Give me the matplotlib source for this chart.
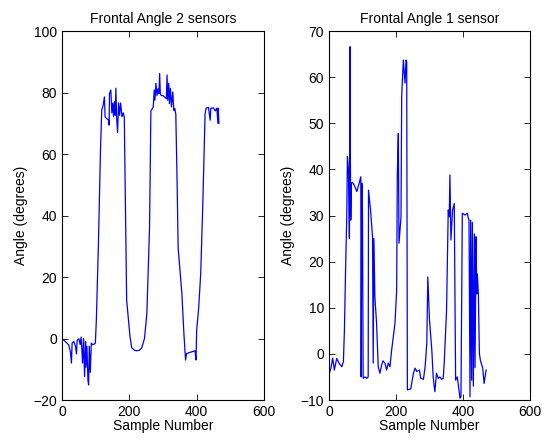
import matplotlib
matplotlib.use("Agg")
import matplotlib.pyplot as plt

# Frontal angle measured with 2 sensors (sample number, angle in degrees)
two_sensor_samples = [0, 10, 20, 25, 28, 30, 35, 40, 43, 45, 50, 54, 57, 61, 64, 67, 70, 71, 74, 77,
                      79, 81, 84, 87, 91, 96, 99, 102, 108, 114, 118, 122, 126, 128, 132, 138, 140, 141,
                      145, 148, 151, 153, 156, 158, 160, 162, 165, 168, 171, 174, 178, 182, 185, 192,
                      202, 207, 215, 222, 230, 237, 245, 252, 260, 264, 269, 271, 274, 276, 279, 282,
                      285, 288, 290, 292, 295, 300, 305, 310, 312, 314, 317, 319, 322, 325, 329, 332,
                      335, 338, 342, 345, 356, 362, 367, 370, 380, 390, 395, 398, 400, 406, 412, 418,
                      425, 428, 435, 440, 442, 450, 455, 460, 463, 464, 466]
two_sensor_angle = [0.0, -1.0, -2.1, -4.3, -8.0, -1.5, -1.0, -2.5, -5.0, -0.6, -0.1, -2.0, 0.5, -8.0,
                    0.0, -12.4, -1.0, -9.3, -2.5, -13.5, -15.1, -2.5, -11.0, -1.5, -2.0, -1.8, -1.5,
                    6.0, 30.0, 60.0, 74.3, 75.7, 78.6, 72.1, 71.6, 71.0, 69.4, 79.7, 80.8, 73.4, 76.6,
                    72.1, 77.0, 72.6, 81.4, 72.6, 67.0, 76.6, 72.6, 76.6, 72.1, 73.4, 72.0, 12.5, 0.6,
                    -3.0, -3.8, -4.0, -3.8, -3.0, 0.0, 8.0, 36.0, 74.0, 74.9, 75.3, 80.8, 77.5, 83.0,
                    79.0, 81.2, 79.6, 86.2, 79.6, 79.0, 79.0, 78.5, 78.0, 85.7, 77.5, 83.0, 76.4, 81.4,
                    75.3, 80.2, 74.2, 74.8, 73.0, 50.0, 29.4, 14.7, 1.7, -7.0, -4.9, -4.5, -4.2, -4.0,
                    -7.0, 2.8, 10.0, 21.2, 42.9, 73.2, 74.9, 75.2, 71.0, 74.9, 75.0, 74.0, 74.9, 70.0,
                    74.9, 70.0]

# Frontal angle measured with 1 sensor
one_sensor_samples = [1, 6, 11, 16, 23, 30, 38, 43, 46, 50, 53, 55, 58, 61, 63, 64, 65, 67, 70, 76,
                      83, 90, 95, 96, 98, 99, 100, 102, 108, 113, 117, 118, 124, 130, 132, 134, 137,
                      142, 147, 152, 157, 161, 167, 172, 177, 182, 187, 192, 197, 202, 204, 207, 209,
                      215, 217, 222, 227, 230, 232, 234, 244, 252, 257, 262, 270, 274, 282, 287, 292,
                      295, 300, 307, 311, 316, 321, 326, 331, 336, 341, 344, 351, 356, 359, 361, 364,
                      369, 374, 378, 383, 388, 391, 394, 398, 406, 413, 416, 418, 421, 423, 426, 428,
                      431, 434, 436, 439, 441, 443, 446, 449, 452, 459, 463, 469]
one_sensor_angle = [-4.2, -3.0, -0.9, -3.5, -1.0, -2.0, -2.8, -1.7, 5.0, 20.0, 29.7, 42.8, 40.0, 25.0,
                    66.6, 40.0, 29.0, 37.0, 37.2, 36.5, 35.2, 37.0, 38.4, -5.0, 37.0, 35.0, 30.0,
                    -5.3, -5.0, -5.3, -5.0, 35.5, 31.2, 25.4, -2.0, 25.0, 12.4, 6.7, -2.8, -4.2,
                    -2.5, -1.5, -2.0, -3.5, -2.0, -2.8, 0.8, 3.7, 6.7, 13.8, 39.1, 47.8, 24.0, 29.7,
                    55.8, 63.7, 58.7, 63.7, 63.3, -7.8, -7.6, -4.2, -3.1, -3.8, -3.5, -5.3, -5.5, -2.8,
                    2.3, 16.7, 7.4, 0.8, -5.0, -8.2, -4.2, -5.3, -5.0, -5.5, -5.3, -2.0, 9.5, 31.2,
                    29.7, 38.8, 24.7, 31.2, 32.6, -5.7, -5.0, -7.8, -9.6, -9.3, 30.5, 30.1, 30.5, 29.4,
                    29.0, -9.3, 29.0, -5.7, 28.5, -7.0, 26.0, -3.0, 25.4, 13.0, 17.3, 12.8, 0.1, -1.4,
                    -3.1, -6.4, -3.5]

plt.rcParams['font.family'] = ['Liberation Sans', 'DejaVu Sans']
plt.rcParams['font.size'] = 10

fig = plt.figure(figsize=(5.42, 4.40), dpi=100)
ax1 = fig.add_axes([0.1144, 0.0909, 0.3727, 0.8386])
ax2 = fig.add_axes([0.607, 0.0909, 0.3708, 0.8386])

ax1.plot(two_sensor_samples, two_sensor_angle, color='#0000ff', linewidth=0.9)
ax1.set_xlim(0, 600)
ax1.set_ylim(-20, 100)
ax1.set_xticks([0, 200, 400, 600])
ax1.set_yticks([-20, 0, 20, 40, 60, 80, 100])
ax1.set_title("Frontal Angle 2 sensors", fontsize=10)
ax1.set_xlabel("Sample Number", labelpad=0)
ax1.set_ylabel("Angle (degrees)")

ax2.plot(one_sensor_samples, one_sensor_angle, color='#0000ff', linewidth=0.9)
ax2.set_xlim(0, 600)
ax2.set_ylim(-10, 70)
ax2.set_xticks([0, 200, 400, 600])
ax2.set_yticks([-10, 0, 10, 20, 30, 40, 50, 60, 70])
ax2.set_title("Frontal Angle 1 sensor", fontsize=10)
ax2.set_xlabel("Sample Number", labelpad=0)
ax2.set_ylabel("Angle (degrees)")

for ax in (ax1, ax2):
    ax.tick_params(direction='in', top=True, right=True, length=4, width=0.6, labelsize=10)
    for s in ax.spines.values():
        s.set_linewidth(0.8)

fig.savefig("out.png", dpi=100)
